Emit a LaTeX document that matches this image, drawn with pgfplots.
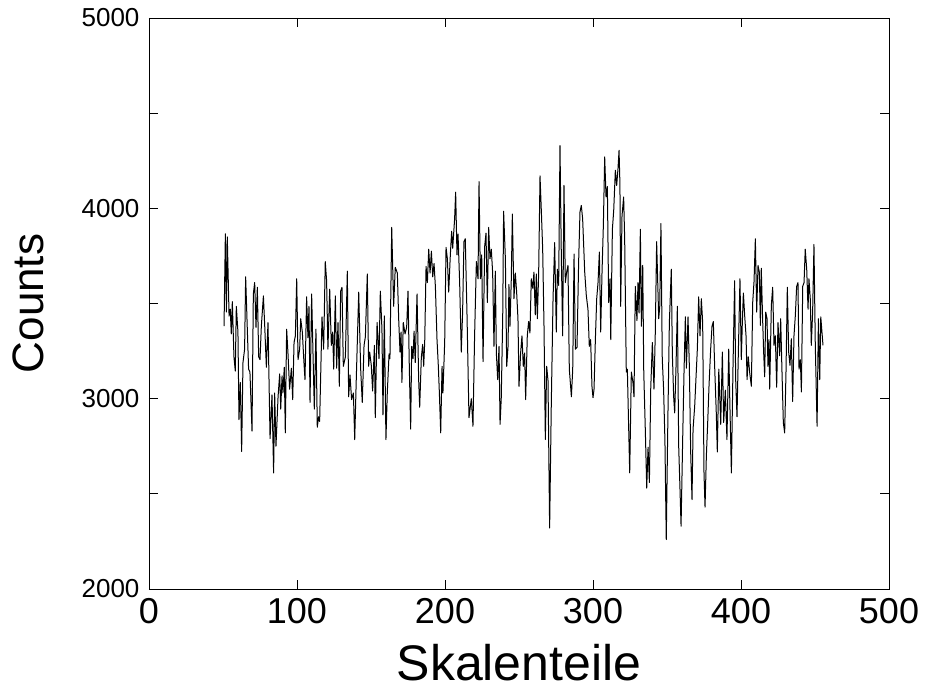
\documentclass[border=0pt]{standalone}
\usepackage{pgfplots}
\pgfplotsset{compat=1.18}
\usepackage{fontspec}
\setmainfont{Liberation Sans}
\begin{document}
\begin{tikzpicture}
\begin{axis}[
  name=ax,
  scale only axis,
  width=740pt, height=571pt,
  xmin=0, xmax=500, ymin=2000, ymax=5000,
  xtick={0,100,200,300,400,500},
  ytick={2000,3000,4000,5000},
  minor ytick={2500,3500,4500},
  major tick length=9pt, minor tick length=9pt,
  tick align=inside,
  tick pos=both,
  axis line style={line width=0.9pt},
  every tick/.style={line width=0.9pt, black},
  minor tick style={line width=0.9pt, black},
  /pgf/number format/assume math mode=true,
  /pgf/number format/set thousands separator={},
  xticklabel style={font=\fontsize{36}{40}\selectfont, yshift=-6pt},
  yticklabel style={font=\fontsize{26}{30}\selectfont, xshift=-6pt},
  xlabel={Skalenteile},
  ylabel={Counts},
  xlabel style={font=\fontsize{50}{56}\selectfont, at={(axis description cs:0.5,-0.161)}, anchor=base},
  ylabel style={font=\fontsize{44}{50}\selectfont, at={(axis description cs:-0.142,0.5)}, anchor=base},
]
\addplot[black, line width=1.0pt, mark=none, line join=round] coordinates {
(50.7,3381)(51.6,3866)(52.3,3455)(52.9,3850)(54.1,3434)(54.9,3470)(55.6,3340)(56.3,3510)(57.4,3220)(58.3,3145)(59.0,3485)(60.1,3350)(60.8,2890)(61.7,3085)(62.6,2722)(63.5,3190)(64.6,3260)(65.3,3640)(66.0,3470)(66.9,3250)(67.3,3155)(68.2,3140)(69.6,2830)(70.5,3550)(71.4,3610)(72.3,3375)(73.2,3585)(74.1,3220)(75.0,3205)(75.9,3380)(77.3,3540)(78.2,3380)(79.3,3165)(80.4,3400)(81.8,2790)(83.1,3020)(84.2,2610)(84.9,3030)(85.8,2750)(87.2,3010)(88.3,3130)(89.0,2945)(89.9,3120)(90.5,3030)(91.4,3165)(92.1,2820)(93.0,3365)(93.9,3240)(95.0,3050)(96.2,3160)(97.1,2995)(98.0,3295)(98.9,3330)(99.8,3630)(100.7,3205)(101.8,3260)(102.5,3420)(103.6,3350)(104.7,3190)(105.4,3100)(106.5,3535)(107.4,3320)(108.1,3485)(108.8,2980)(109.9,3550)(110.8,3240)(111.7,2945)(112.8,3365)(113.7,2850)(114.6,2905)(115.3,2880)(116.9,3430)(118.0,3260)(119.1,3720)(120.0,3620)(120.9,3260)(122.1,3575)(123.2,3280)(124.1,3350)(124.8,3155)(125.9,3540)(126.8,3160)(127.7,3400)(128.6,3065)(129.5,3565)(130.4,3585)(131.3,3170)(132.7,3220)(134.0,3670)(134.9,3010)(135.8,3125)(136.9,2995)(138.1,3030)(139.0,2785)(139.9,3060)(141.7,3560)(143.0,3160)(144.1,2980)(145.3,3280)(146.2,3325)(147.5,3655)(148.4,3170)
(149.1,3245)(150.2,3175)(151.1,3040)(152.3,3280)(152.9,2900)(154.1,3400)(155.4,3210)(156.3,3565)(157.4,3365)(158.1,2915)(159.0,3435)(160.1,2785)(161.0,3030)(162.2,3235)(162.8,3210)(164.0,3900)(165.3,3485)(166.4,3690)(167.8,3660)(168.7,3420)(169.6,3245)(170.3,3350)(170.9,3085)(171.8,3400)(173.0,3340)(174.1,3375)(175.0,3565)(175.9,3160)(176.8,2840)(177.5,3275)(178.4,3210)(179.1,3355)(179.9,3190)(181.1,3550)(182.2,3100)(182.9,2955)
(184.0,3215)(184.9,3285)(185.6,3170)(186.3,3300)(187.2,3695)(188.1,3610)(189.0,3785)(189.9,3660)(190.8,3775)(191.7,3640)(192.6,3710)(193.5,3590)(194.6,3310)(195.5,3170)(196.2,3030)(197.1,2820)(198.0,3170)(198.6,3030)(199.8,3300)(200.7,3795)(201.6,3735)(202.5,3560)(203.6,3755)(204.5,3880)(205.2,3790)(206.5,3945)(207.2,4085)(208.1,3755)(208.8,3865)(209.9,3610)(211.0,3245)(211.9,3455)(212.8,3825)(213.7,3840)(214.9,3430)(216.2,2900)
(217.8,3000)(218.9,2855)(220.0,3330)(221.2,3720)(222.3,3630)(223.0,4140)(223.9,3630)(224.8,3755)(225.7,3195)(226.8,3800)(227.7,3870)(228.6,3505)(229.5,3900)(230.4,3735)(231.3,3785)(232.2,3660)(233.1,3275)(234.0,3670)(234.7,3240)(235.6,3100)(236.5,3275)(237.2,2865)(238.0,3000)(239.0,3430)(239.6,3985)(240.8,3735)(241.7,3170)(242.6,3275)(243.2,3600)(243.9,3380)(244.8,3630)(245.5,3970)(246.6,3525)(247.5,3660)(248.4,3560)(249.3,3420)(250.0,3065)
(251.1,3240)(252.0,3330)(252.9,3170)(253.8,3240)(254.5,2995)(255.6,3330)(256.5,3405)(257.4,3345)(258.3,3630)(259.3,3580)(260.1,3665)(261.0,3440)(261.7,3655)(262.4,3420)(263.3,3665)(264.2,4170)(265.1,3985)(266.0,3785)(266.9,3380)(267.8,2785)(268.7,3170)(269.6,3095)(270.7,2320)(271.8,2960)(273.0,3525)(274.1,3820)(275.2,3350)(275.9,3680)(276.8,3595)(277.7,4330)(278.6,3750)(279.5,3330)(280.4,4120)(281.3,3610)(282.2,3665)(283.1,3700)(284.0,3155)
(285.4,3010)(286.3,3155)(287.2,3760)(288.1,3260)(289.2,3270)(290.3,3720)(291.2,3980)(292.1,4015)(293.0,3945)(294.4,3665)(295.5,3540)(296.6,3470)(297.5,3275)(298.4,3310)(299.3,3065)(300.0,3005)(300.7,3050)(301.6,3310)(302.5,3525)(303.4,3610)(304.3,3770)(305.2,3350)(306.1,3665)(307.0,3910)(307.9,4270)(308.8,4060)(309.7,4115)(310.6,3505)(311.5,3630)(312.0,3310)(313.1,3890)(314.0,3990)(315.1,4200)(316.0,4120)(316.9,4210)(317.6,4305)
(318.2,4125)(318.7,3485)(319.6,3960)(320.7,4060)(321.4,3840)(322.5,3140)(323.2,3155)(324.8,2610)(325.9,3140)(327.0,3085)(327.7,3010)(328.6,3590)(329.7,3410)(330.4,3610)(331.1,3450)(332.0,3890)(332.7,3380)(333.6,3700)(334.3,3140)(335.4,2820)(336.3,2530)(337.2,2745)(338.1,2560)(339.0,3050)(340.1,3295)(341.2,3050)(342.1,3350)(343.0,3825)(344.4,3420)(345.1,3485)(345.9,3920)(346.8,3210)(347.7,3050)(348.6,2780)(349.5,2260)(350.6,2900)(351.6,3400)(352.9,3680)(353.6,3240)(354.5,3010)(355.2,2925)(356.1,3170)(357.0,3485)(357.9,2750)(358.8,2520)(359.5,2330)(360.6,2790)(361.5,3140)(362.4,3430)(363.1,3160)(364.2,3430)(365.1,3170)(366.0,2720)(366.9,2470)(367.6,2840)(368.7,2960)(369.6,3110)(370.5,3260)(371.4,3535)(372.3,3330)(373.2,3525)(374.1,3400)(375.0,2610)(375.7,2430)(376.6,2700)(377.5,2875)(378.4,3070)(379.5,3260)(380.4,3380)(381.3,3405)(382.2,3170)(383.3,2925)(384.0,2720)(385.0,3155)
(386.3,2865)(387.4,3245)(388.3,2875)(389.4,3045)(390.5,2785)(391.7,3260)(392.6,2930)(393.5,2610)(394.6,3170)(395.7,3620)(396.4,3100)(397.3,2905)(398.2,3240)(399.3,3630)(400.2,3205)(400.9,3400)(401.6,3555)(402.5,3435)(403.4,3330)(404.1,3100)(404.9,3220)(405.9,3135)(407.0,3065)(407.9,3505)(408.8,3615)(409.7,3840)(410.6,3455)(411.5,3700)(412.4,3665)(413.1,3385)(413.7,3685)(414.6,3420)(415.3,3245)(416.0,3115)(416.7,3455)(417.6,3420)(418.2,3170)(418.9,3310)
(419.4,3050)(420.5,3490)(421.4,3585)(422.3,3280)(423.2,3330)(424.1,3060)(425.0,3400)(426.1,3225)(426.8,3420)(427.7,3140)(428.6,2875)(429.5,2820)(430.4,3140)(431.3,3585)(432.2,3245)(433.1,3175)(434.0,3315)(434.9,2985)(435.8,3330)(436.7,3435)(437.6,3590)(438.5,3610)(439.2,3155)(440.1,3205)(440.8,3035)(441.7,3590)(442.6,3610)(443.4,3785)(444.4,3680)(445.3,3470)(445.9,3630)(446.8,3525)(447.5,3280)(448.4,3455)(449.3,3810)(450.2,3280)(451.4,2855)(452.3,3420)(453.2,3100)(453.9,3430)(454.7,3350)(455.4,3280)
};
\end{axis}
\pgfresetboundingbox
\path[use as bounding box] ([shift={(-149pt,-111pt)}]ax.south west) rectangle ([shift={(40pt,18pt)}]ax.north east);
\end{tikzpicture}
\end{document}
